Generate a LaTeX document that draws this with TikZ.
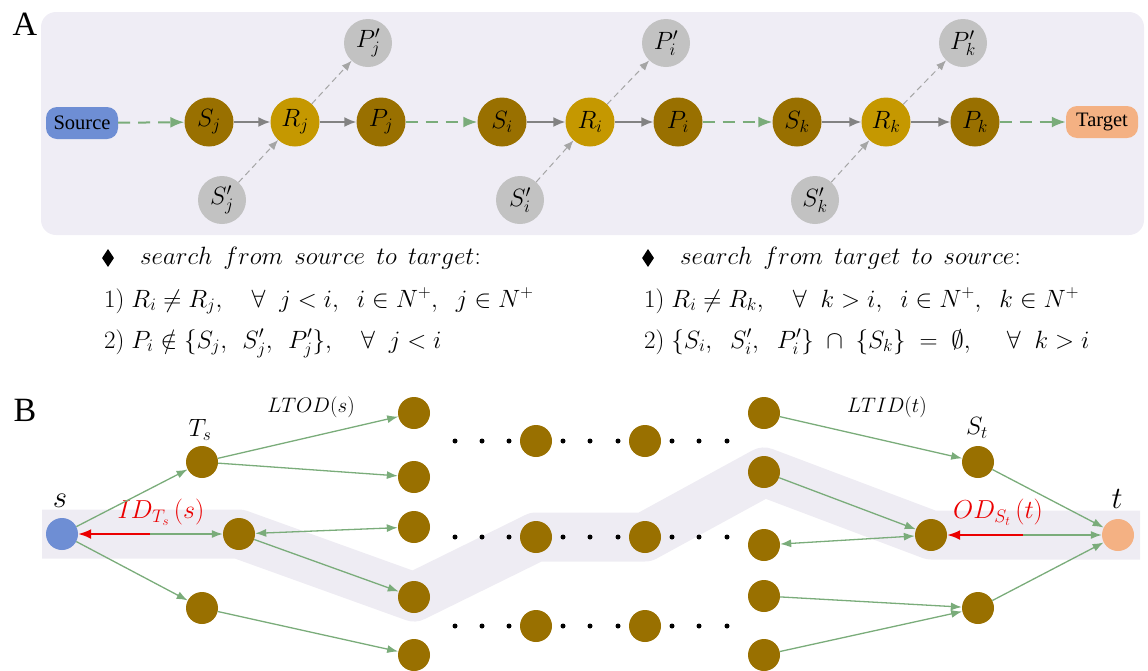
\RequirePackage{fix-cm}
\documentclass[tikz,border=0pt]{standalone}
\usepackage{fontspec}
\newfontfamily\timesf{Liberation Serif}
\usetikzlibrary{arrows.meta,shapes.geometric,backgrounds}
\definecolor{brn}{RGB}{153,112,0}
\definecolor{gld}{RGB}{197,152,0}
\definecolor{gnode}{RGB}{194,194,194}
\definecolor{srcblue}{RGB}{110,142,212}
\definecolor{tgtc}{RGB}{244,177,131}
\definecolor{panelc}{RGB}{239,237,245}
\definecolor{bandc}{RGB}{238,236,243}
\definecolor{grn}{RGB}{122,172,122}
\definecolor{arrgray}{RGB}{130,130,130}
\definecolor{dgray}{RGB}{165,165,165}
\definecolor{redc}{RGB}{235,0,0}
\newcommand{\wsp}{\hspace{0.45em}}
\tikzset{
  anode/.style={circle, minimum size=49, inner sep=0, font=\fontsize{25}{29}\selectfont},
  snode/.style={anode, fill=brn},
  rnode/.style={anode, fill=gld},
  pnode/.style={anode, fill=gnode, minimum size=48},
  endbox/.style={rounded corners=11, minimum width=72, minimum height=32, inner sep=0, font=\timesf\fontsize{20.5}{23}\selectfont},
  garr/.style={arrgray, line width=1.8, -{Latex[length=12,width=10]}},
  gdash/.style={grn, line width=2, dash pattern=on 12 off 8, -{Latex[length=14,width=11]}},
  tdash/.style={dgray, line width=1, dash pattern=on 6 off 4, -{Latex[length=10,width=8]}},
  bnode/.style={circle, fill=brn, minimum size=32, inner sep=0},
  barr/.style={grn, line width=1.3, -{Latex[length=11,width=8]}},
  bdbl/.style={grn, line width=1.3, {Latex[length=11,width=8]}-{Latex[length=11,width=8]}},
  rarr/.style={redc, line width=2, -{Latex[length=13,width=10]}},
  gline/.style={grn, line width=1.3, -{Latex[length=11,width=8]}},
  dotn/.style={circle, fill=black, minimum size=5, inner sep=0},
  txt/.style={anchor=base west, inner sep=0, font=\fontsize{25}{29}\selectfont},
  lab/.style={inner sep=0, font=\fontsize{25}{29}\selectfont},
  rlab/.style={inner sep=0, text=redc, font=\fontsize{26}{30}\selectfont},
  smlab/.style={inner sep=0, font=\fontsize{21}{25}\selectfont},
  biglab/.style={inner sep=0, font=\fontsize{31}{35}\selectfont},
  letter/.style={inner sep=0, font=\timesf\fontsize{34}{38}\selectfont},
  bullet/.style={diamond, fill=black, minimum width=12, minimum height=18, inner sep=0},
}
\begin{document}
\begin{tikzpicture}[x=1pt,y=-1pt]
\useasboundingbox (0,0) rectangle (1148,670);
% ---------------- Panel A ----------------
\node[letter] (A) at (25,24) {A};
\node[endbox, fill=srcblue] (src) at (82,123) {Source};
\node[snode] (sj) at (209,122) {$S_j$};
\node[rnode] (rj) at (295,122) {$R_j$};
\node[snode] (pj) at (381,122) {$P_j$};
\node[snode] (si) at (502,122) {$S_i$};
\node[rnode] (ri) at (590,122) {$R_i$};
\node[snode] (pi) at (678,122) {$P_i$};
\node[snode] (sk) at (797,122) {$S_k$};
\node[rnode] (rk) at (886,122) {$R_k$};
\node[snode] (pk) at (975,122) {$P_k$};
\node[endbox, fill=tgtc] (tgt) at (1102,122) {Target};
\node[pnode] (ppj) at (368,43) {$P'_j$};
\node[pnode] (spj) at (222,200) {$S'_j$};
\node[pnode] (ppi) at (666,43) {$P'_i$};
\node[pnode] (spi) at (520,200) {$S'_i$};
\node[pnode] (ppk) at (963,43) {$P'_k$};
\node[pnode] (spk) at (815,200) {$S'_k$};
\draw[gdash] (src) -- (sj);
\draw[garr] (sj) -- (rj);
\draw[garr] (rj) -- (pj);
\draw[gdash] (pj) -- (si);
\draw[garr] (si) -- (ri);
\draw[garr] (ri) -- (pi);
\draw[gdash] (pi) -- (sk);
\draw[garr] (sk) -- (rk);
\draw[garr] (rk) -- (pk);
\draw[gdash] (pk) -- (tgt);
\draw[tdash] (spj) -- (rj);
\draw[tdash] (rj) -- (ppj);
\draw[tdash] (spi) -- (ri);
\draw[tdash] (ri) -- (ppi);
\draw[tdash] (spk) -- (rk);
\draw[tdash] (rk) -- (ppk);
% ---------------- conditions ----------------
\node[bullet] (d1) at (108,258) {};
\node[txt] (h1) at (140,264) {$search\wsp from\wsp source\wsp to\wsp target$:};
\node[txt] (l1) at (104,307) {1)\;$R_i\neq R_j,\quad\forall\;\;j<i,\;\;i\in N^+,\;\;j\in N^+$};
\node[txt] (l2) at (104,348) {2)\;$P_i\notin\{S_j,\;\,S'_j,\;\,P'_j\},\quad\forall\;\;j<i$};
\node[bullet] (d2) at (648,258) {};
\node[txt] (h2) at (680,264) {$search\wsp from\wsp target\wsp to\wsp source$:};
\node[txt] (r1) at (644,307) {1)\;$R_i\neq R_k,\quad\forall\;\;k>i,\;\;i\in N^+,\;\;k\in N^+$};
\node[txt] (r2) at (644,348) {2)\;$\{S_i,\;\;S'_i,\;\;P'_i\}\;\cap\;\{S_k\}\;=\;\emptyset,\quad\;\forall\;\;k>i$};
% ---------------- Panel B ----------------
\node[letter] (B) at (25,410) {B};
\node[circle, fill=srcblue, minimum size=32, inner sep=0] (s) at (62,534) {};
\node[circle, fill=tgtc, minimum size=32, inner sep=0] (t) at (1118,535) {};
\node[bnode] (Ts) at (202,462) {};
\node[bnode] (bl) at (202,608) {};
\node[bnode] (n2) at (239,534) {};
\node[bnode] (c3a) at (414,413) {};
\node[bnode] (c3b) at (414,477) {};
\node[bnode] (c3c) at (414,527) {};
\node[bnode] (c3d) at (414,597) {};
\node[bnode] (c3e) at (414,655) {};
\node[bnode] (r1a) at (536,441) {};
\node[bnode] (r1b) at (645,441) {};
\node[bnode] (r2a) at (536,537) {};
\node[bnode] (r2b) at (645,537) {};
\node[bnode] (r3a) at (536,626) {};
\node[bnode] (r3b) at (645,626) {};
\node[bnode] (c4a) at (764,413) {};
\node[bnode] (c4b) at (764,472) {};
\node[bnode] (c4c) at (764,545) {};
\node[bnode] (c4d) at (764,596) {};
\node[bnode] (c4e) at (764,655) {};
\node[bnode] (St) at (978,462) {};
\node[bnode] (n9) at (931,535) {};
\node[bnode] (br) at (978,608) {};
\foreach \yy/\rr in {441/a,537/b,626/c}{
  \foreach \xx [count=\k] in {455,482,509,563,590,618,672,699,727}{
    \node[dotn] (dot\rr\k) at (\xx,\yy) {};
  }
}
\begin{scope}[on background layer]
\fill[panelc, rounded corners=15] (41,12) rectangle (1144,235);
\draw[bandc, line width=49, line join=round] ([xshift=-20]s.center) -- (n2.center) -- (c3d.center) -- (r2a.center) -- (r2b.center) -- (c4b.center) -- (n9.center) -- ([xshift=22]t.center);
\end{scope}
\node[biglab] (slab) at (60,501) {$s$};
\node[biglab] (tlab) at (1117,499) {$t$};
\node[lab] (Tslab) at (200,430) {$T_s$};
\node[lab] (Stlab) at (977,428) {$S_t$};
\node[rlab] (idlab) at (161,512) {$ID_{T_s}\,(s)$};
\node[rlab] (odlab) at (998,512) {$OD_{S_t}\,(t)$};
\node[smlab] (ltod) at (311,407) {$LTOD(s)$};
\node[smlab] (ltid) at (887,407) {$LTID(t)$};
\coordinate (m1) at (150,534);
\coordinate (m2) at (1023,535);
\draw[barr] (s) -- (Ts);
\draw[barr] (s) -- (bl);
\draw[gline] (m1) -- (n2);
\draw[rarr] (m1) -- (s);
\draw[barr] (Ts) -- (c3a);
\draw[barr] (Ts) -- (c3b);
\draw[bdbl] (n2) -- (c3c);
\draw[barr] (n2) -- (c3d);
\draw[barr] (bl) -- (c3e);
\draw[barr] (c4a) -- (St);
\draw[barr] (c4b) -- (n9);
\draw[bdbl] (n9) -- (c4c);
\draw[barr] (c4d) -- (br);
\draw[barr] (c4e) -- (br);
\draw[barr] (St) -- (t);
\draw[barr] (br) -- (t);
\draw[gline] (m2) -- (t);
\draw[rarr] (m2) -- (n9);
\end{tikzpicture}
\end{document}
